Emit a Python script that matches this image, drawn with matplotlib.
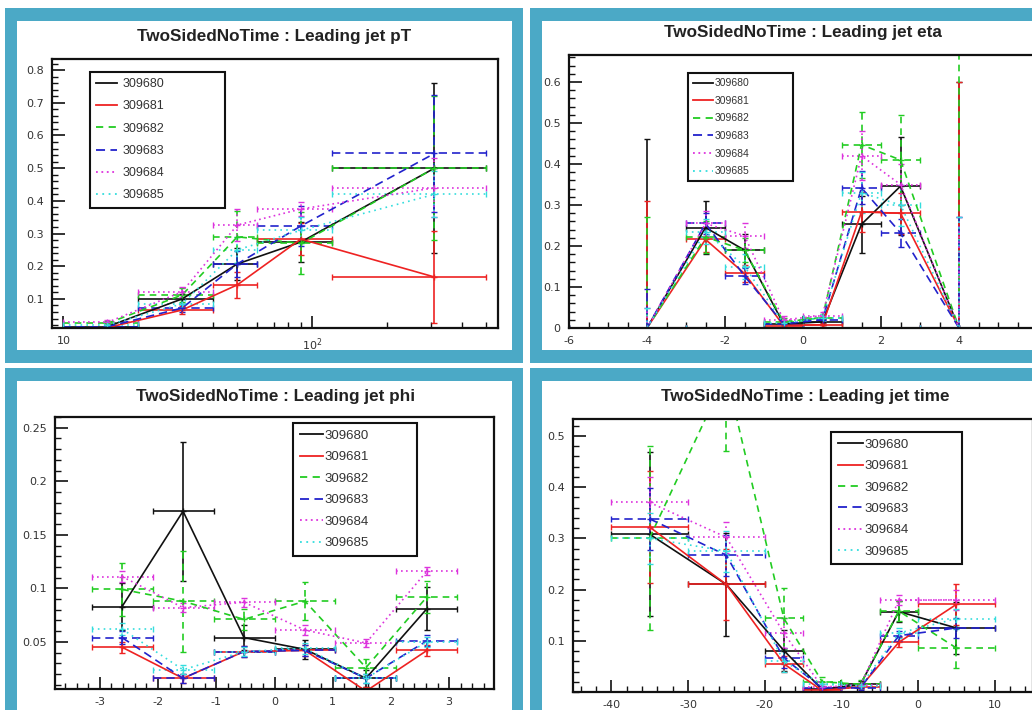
import numpy as np
import matplotlib
matplotlib.use('Agg')
import matplotlib.pyplot as plt
from matplotlib.patches import Rectangle
from matplotlib.lines import Line2D
from matplotlib.ticker import MultipleLocator, FuncFormatter, FixedLocator, NullFormatter

# ---------------- data ----------------
runs = ['309680', '309681', '309682', '309683', '309684', '309685']

# Leading jet pT (log x)
pt_edges = [10, 20, 40, 60, 120, 500]
pt_centers = [15, 30, 50, 90, 310]
pt_y = [
    [0.015, 0.100, 0.207, 0.274, 0.500],
    [0.012, 0.066, 0.143, 0.283, 0.167],
    [0.025, 0.112, 0.290, 0.270, 0.500],
    [0.015, 0.072, 0.207, 0.323, 0.545],
    [0.028, 0.122, 0.326, 0.375, 0.440],
    [0.020, 0.085, 0.250, 0.310, 0.420],
]
pt_err = [
    [0.005, 0.015, 0.050, 0.060, 0.260],
    [0.005, 0.012, 0.040, 0.050, 0.140],
    [0.008, 0.020, 0.080, 0.095, 0.220],
    [0.005, 0.012, 0.040, 0.060, 0.180],
    [0.008, 0.015, 0.050, 0.020, 0.090],
    [0.006, 0.015, 0.040, 0.040, 0.070],
]

# Leading jet eta
eta_edges = [-6, -3, -2, -1, 0, 1, 2, 3, 6]
eta_centers = [-4, -2.5, -1.5, -0.5, 0.5, 1.5, 2.5, 4]
eta_y = [
    [0, 0.245, 0.190, 0.010, 0.015, 0.253, 0.346, 0],
    [0, 0.216, 0.133, 0.006, 0.008, 0.283, 0.280, 0],
    [0, 0.222, 0.190, 0.015, 0.025, 0.447, 0.410, 0],
    [0, 0.255, 0.127, 0.010, 0.020, 0.342, 0.232, 0],
    [0, 0.255, 0.225, 0.020, 0.030, 0.420, 0.350, 0],
    [0, 0.235, 0.150, 0.012, 0.025, 0.330, 0.300, 0],
]
eta_err = [
    [0.460, 0.065, 0.040, 0.008, 0.008, 0.070, 0.120, 0.600],
    [0.310, 0.030, 0.020, 0.005, 0.005, 0.050, 0.050, 0.600],
    [0.270, 0.040, 0.030, 0.010, 0.010, 0.080, 0.110, 0.750],
    [0.095, 0.025, 0.020, 0.005, 0.005, 0.040, 0.035, 0.270],
    [0.050, 0.030, 0.030, 0.010, 0.010, 0.060, 0.050, 0.270],
    [0.050, 0.030, 0.030, 0.008, 0.008, 0.050, 0.050, 0.270],
]

# Leading jet phi
phi_edges = [-3.1416, -2.0944, -1.0472, 0.0, 1.0472, 2.0944, 3.1416]
phi_centers = [-2.618, -1.571, -0.524, 0.524, 1.571, 2.618]
phi_y = [
    [0.083, 0.172, 0.054, 0.043, 0.016, 0.081],
    [0.045, 0.016, 0.041, 0.042, 0.004, 0.042],
    [0.099, 0.088, 0.071, 0.088, 0.026, 0.092],
    [0.054, 0.016, 0.041, 0.042, 0.016, 0.051],
    [0.111, 0.082, 0.087, 0.061, 0.049, 0.116],
    [0.062, 0.024, 0.041, 0.044, 0.016, 0.050],
]
phi_err = [
    [0.022, 0.065, 0.012, 0.009, 0.008, 0.020],
    [0.005, 0.004, 0.005, 0.005, 0.004, 0.005],
    [0.025, 0.047, 0.010, 0.018, 0.008, 0.015],
    [0.006, 0.004, 0.005, 0.005, 0.004, 0.005],
    [0.005, 0.004, 0.004, 0.005, 0.004, 0.004],
    [0.006, 0.004, 0.004, 0.005, 0.004, 0.005],
]

# Leading jet time
time_edges = [-40, -30, -20, -15, -10, -5, 0, 10]
time_centers = [-35, -25, -17.5, -12.5, -7.5, -2.5, 5]
time_y = [
    [0.308, 0.210, 0.081, 0.005, 0.015, 0.157, 0.125],
    [0.322, 0.210, 0.055, 0.003, 0.010, 0.097, 0.171],
    [0.301, 0.620, 0.144, 0.020, 0.015, 0.158, 0.086],
    [0.338, 0.267, 0.066, 0.008, 0.008, 0.110, 0.125],
    [0.370, 0.302, 0.115, 0.010, 0.013, 0.179, 0.180],
    [0.300, 0.275, 0.060, 0.015, 0.012, 0.115, 0.143],
]
time_err = [
    [0.160, 0.100, 0.040, 0.004, 0.006, 0.020, 0.050],
    [0.110, 0.070, 0.015, 0.003, 0.005, 0.010, 0.040],
    [0.180, 0.150, 0.060, 0.010, 0.008, 0.020, 0.040],
    [0.060, 0.040, 0.020, 0.004, 0.004, 0.010, 0.020],
    [0.050, 0.030, 0.030, 0.005, 0.005, 0.010, 0.020],
    [0.050, 0.040, 0.020, 0.005, 0.005, 0.010, 0.020],
]

# ---------------- style ----------------
colors = ['#111111', '#ee2222', '#22cc22', '#2222cc', '#dd33dd', '#33dddd']
styles = ['-', '-', (0, (4, 3)), (0, (5, 3)), (0, (1, 2)), (0, (1, 2.5))]
FRAME = '#4BA9C6'
W, H = 1032, 710

fig = plt.figure(figsize=(W / 100, H / 100), dpi=100)
fig.patch.set_facecolor('white')


def px_rect(x0, y0, x1, y1, color, z=-10):
    fig.add_artist(Rectangle((x0 / W, 1 - y1 / H), (x1 - x0) / W, (y1 - y0) / H,
                             transform=fig.transFigure, facecolor=color,
                             edgecolor='none', zorder=z))


# panel frames
px_rect(5, 8, 523, 363, FRAME)
px_rect(17, 21, 512, 350, 'white', -9)
px_rect(530, 8, 1040, 363, FRAME)
px_rect(542, 21, 1040, 350, 'white', -9)
px_rect(5, 368, 523, 720, FRAME)
px_rect(17, 381, 512, 720, 'white', -9)
px_rect(530, 368, 1040, 720, FRAME)
px_rect(542, 381, 1040, 720, 'white', -9)


def make_ax(x0, y0, x1, y1):
    ax = fig.add_axes([x0 / W, 1 - y1 / H, (x1 - x0) / W, (y1 - y0) / H])
    ax.set_facecolor('white')
    for s in ax.spines.values():
        s.set_linewidth(1.6)
        s.set_color('#111111')
    ax.tick_params(which='both', direction='in', top=False, right=False,
                   labelsize=8, labelcolor='#333333', color='#111111', pad=6)
    ax.tick_params(which='major', length=9, width=1.2)
    ax.tick_params(which='minor', length=4.5, width=1.0)
    return ax


def draw(ax, centers, edges, ys, errs):
    c = np.array(centers, dtype=float)
    e = np.array(edges, dtype=float)
    xlo = c - e[:-1]
    xhi = e[1:] - c
    for i in range(len(runs)):
        y = np.array(ys[i], dtype=float)
        er = np.array(errs[i], dtype=float)
        lo = np.minimum(er, y)
        eb = ax.errorbar(c, y, xerr=[xlo, xhi], yerr=[lo, er], color=colors[i],
                         ls=styles[i], lw=1.2, elinewidth=1.2, capsize=2,
                         capthick=1.0, marker='+', ms=5, mew=1.0)
        for lc in eb[2]:
            lc.set_linestyle(styles[i])


def add_legend(ax, box, fs, ls, hl, htp):
    handles = [Line2D([], [], color=colors[i], ls=styles[i], lw=1.3) for i in range(len(runs))]
    x0, y0, x1, y1 = box
    leg = ax.legend(handles, runs, loc='upper left',
                    bbox_to_anchor=(x0, y0, x1 - x0, y1 - y0), mode='expand',
                    labelspacing=ls, handlelength=hl,
                    handletextpad=htp, borderpad=0.5, borderaxespad=0,
                    fancybox=False, framealpha=1, edgecolor='#111111',
                    prop={'family': 'Liberation Sans', 'size': fs})
    leg.get_frame().set_linewidth(1.5)
    for t in leg.get_texts():
        t.set_color('#333333')
    return leg


def title(x, y, s):
    fig.text(x / W, 1 - y / H, s, ha='center', va='center', fontsize=12.3,
             fontweight='bold', family='Liberation Sans', color='#222222')


def gfmt(v, p):
    if abs(v) < 1e-9:
        return '0'
    return f'{v:g}'


# ---------------- pT ----------------
ax1 = make_ax(52, 59, 498, 328)
draw(ax1, pt_centers, pt_edges, pt_y, pt_err)
ax1.set_xscale('log')
ax1.set_xlim(9.0, 558)
ax1.set_ylim(0.011, 0.834)
ax1.xaxis.set_major_locator(FixedLocator([10, 100]))
ax1.xaxis.set_major_formatter(FuncFormatter(lambda v, p: '10' if v < 50 else r'$10^{2}$'))
ax1.xaxis.set_minor_locator(FixedLocator([20, 30, 40, 50, 60, 70, 80, 90, 200, 300, 400, 500]))
ax1.xaxis.set_minor_formatter(NullFormatter())
ax1.yaxis.set_major_locator(MultipleLocator(0.1))
ax1.yaxis.set_minor_locator(MultipleLocator(0.02))
ax1.yaxis.set_major_formatter(FuncFormatter(gfmt))
add_legend(ax1, (0.085, 0.45, 0.388, 0.952), 9, 0.82, 1.7, 0.4)
title(274, 37, 'TwoSidedNoTime : Leading jet pT')

# ---------------- eta ----------------
ax2 = make_ax(569, 55, 1037, 328)
draw(ax2, eta_centers, eta_edges, eta_y, eta_err)
ax2.set_xlim(-6, 6)
ax2.set_ylim(0, 0.666)
ax2.xaxis.set_major_locator(FixedLocator([-6, -4, -2, 0, 2, 4]))
ax2.xaxis.set_minor_locator(MultipleLocator(0.5))
ax2.yaxis.set_major_locator(MultipleLocator(0.1))
ax2.yaxis.set_minor_locator(MultipleLocator(0.02))
ax2.yaxis.set_major_formatter(FuncFormatter(gfmt))
ax2.xaxis.set_major_formatter(FuncFormatter(gfmt))
add_legend(ax2, (0.254, 0.538, 0.479, 0.934), 7.5, 0.73, 1.9, 0.2)
title(803, 33, 'TwoSidedNoTime : Leading jet eta')

# ---------------- phi ----------------
ax3 = make_ax(55, 417, 494, 689)
draw(ax3, phi_centers, phi_edges, phi_y, phi_err)
ax3.set_xlim(-3.77, 3.77)
ax3.set_ylim(0.006, 0.26)
ax3.xaxis.set_major_locator(MultipleLocator(1))
ax3.xaxis.set_minor_locator(MultipleLocator(0.2))
ax3.yaxis.set_major_locator(MultipleLocator(0.05))
ax3.yaxis.set_minor_locator(MultipleLocator(0.01))
ax3.yaxis.set_major_formatter(FuncFormatter(gfmt))
ax3.xaxis.set_major_formatter(FuncFormatter(gfmt))
add_legend(ax3, (0.542, 0.489, 0.825, 0.978), 9.5, 0.70, 1.8, 0.1)
title(276, 396, 'TwoSidedNoTime : Leading jet phi')

# ---------------- time ----------------
ax4 = make_ax(573, 419, 1033, 692)
draw(ax4, time_centers, time_edges, time_y, time_err)
ax4.set_xlim(-45, 15)
ax4.set_ylim(0, 0.533)
ax4.xaxis.set_major_locator(FixedLocator([-40, -30, -20, -10, 0, 10]))
ax4.xaxis.set_minor_locator(MultipleLocator(2))
ax4.yaxis.set_major_locator(FixedLocator([0.1, 0.2, 0.3, 0.4, 0.5]))
ax4.yaxis.set_minor_locator(MultipleLocator(0.02))
ax4.yaxis.set_major_formatter(FuncFormatter(gfmt))
ax4.xaxis.set_major_formatter(FuncFormatter(gfmt))
add_legend(ax4, (0.561, 0.469, 0.846, 0.952), 9.5, 0.69, 1.9, 0.1)
title(805, 397, 'TwoSidedNoTime : Leading jet time')

fig.savefig('out.png', dpi=100, facecolor='white')
